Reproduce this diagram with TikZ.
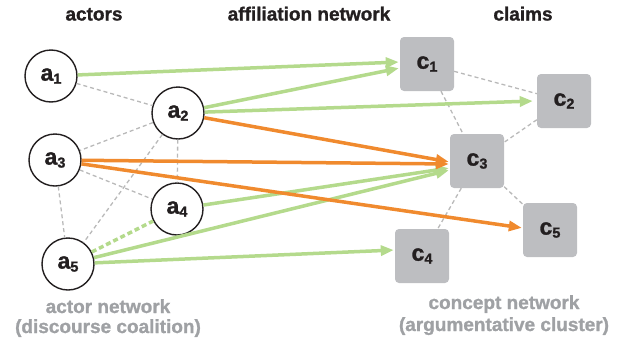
\documentclass[tikz,border=0pt]{standalone}
\usepackage{fontspec}
\setmainfont{Liberation Sans}[BoldFeatures={FakeBold=1.2}]
\usetikzlibrary{arrows.meta}
\definecolor{grn}{HTML}{B4DA8C}
\definecolor{org}{HTML}{F08A2E}
\definecolor{boxg}{HTML}{BDBEC1}
\definecolor{dashg}{HTML}{B9B9B9}
\definecolor{txtg}{HTML}{9FA1A4}
\definecolor{ink}{HTML}{231F20}
\newcommand\lbl[2]{\fontsize{23}{23}\selectfont\bfseries #1\raisebox{-3pt}{\fontsize{14.5}{14.5}\selectfont #2}}
\begin{document}
\begin{tikzpicture}[x=1pt,y=-1pt,
  actor/.style={circle,draw=ink,line width=1.4pt,minimum size=52pt,inner sep=0pt,fill=white,text=ink},
  claim/.style={rectangle,rounded corners=4pt,fill=boxg,minimum size=54pt,inner sep=0pt,text=ink},
  title/.style={font=\fontsize{19}{19}\selectfont\bfseries,text=ink,anchor=base,inner sep=0pt},
  sub/.style={font=\fontsize{19}{19}\selectfont\bfseries,text=txtg,anchor=base,inner sep=0pt},
  link/.style={dashg,line width=1.3pt,dash pattern=on 4pt off 3pt},
  arr/.style={line width=3.5pt,-{Triangle[length=13pt,width=10pt]},shorten >=1pt},
  ga/.style={arr,grn},
  oa/.style={arr,org}]
\useasboundingbox (0,0) rectangle (628,343);
% titles
\node[title] (t1) at (94,20.5) {actors};
\node[title] (t2) at (309,20.5) {affiliation network};
\node[title] (t3) at (523,20.5) {claims};
\node[sub] (s1) at (108,313) {actor network};
\node[sub] (s2) at (108,333) {(discourse coalition)};
\node[sub] (s3) at (504,309) {concept network};
\node[sub] (s4) at (504,331) {(argumentative cluster)};
% claim nodes
\node[claim] (c1) at (427,64) {\lbl{c}{1}};
\node[claim] (c2) at (564,101) {\lbl{c}{2}};
\node[claim] (c3) at (477,161) {\lbl{c}{3}};
\node[claim] (c4) at (422,256) {\lbl{c}{4}};
\node[claim] (c5) at (550,230) {\lbl{c}{5}};
% actor nodes
\node[actor] (a1) at (51,76) {\lbl{a}{1}};
\node[actor] (a2) at (178,113) {\lbl{a}{2}};
\node[actor] (a3) at (55,160) {\lbl{a}{3}};
\node[actor] (a4) at (177,209) {\lbl{a}{4}};
\node[actor] (a5) at (68,264) {\lbl{a}{5}};
% dashed network links
\draw[link] (a1) -- (a2);
\draw[link] (a2) -- (a3);
\draw[link] (a2) -- (a5);
\draw[link] (a2) -- (a4);
\draw[link] (a3) -- (a4);
\draw[link] (a3) -- (a5);
\draw[link] (c1) -- (c2);
\draw[link] (c1) -- (c3);
\draw[link] (c2) -- (c3);
\draw[link] (c3) -- (c4);
\draw[link] (c3) -- (c5);
% affiliation edges
\draw[grn,line width=3.5pt,dash pattern=on 5pt off 3pt] (a5) -- (a4);
\draw[ga] (a1) -- ([yshift=2pt]c1.west);
\draw[ga] (a2) -- ([yshift=-4pt]c1.west);
\draw[ga] (a2) -- ([xshift=-3pt]c2.west);
\draw[ga] (a4) -- ([yshift=-7pt]c3.west);
\draw[ga] (a5) -- ([yshift=-9pt]c3.west);
\draw[ga] (a5) -- ([yshift=6pt]c4.west);
\draw[oa] (a2) -- ([yshift=-1pt]c3.west);
\draw[oa] (a3) -- ([yshift=-3pt]c3.west);
\draw[oa] (a3) -- ([yshift=2pt]c5.west);
\end{tikzpicture}
\end{document}
